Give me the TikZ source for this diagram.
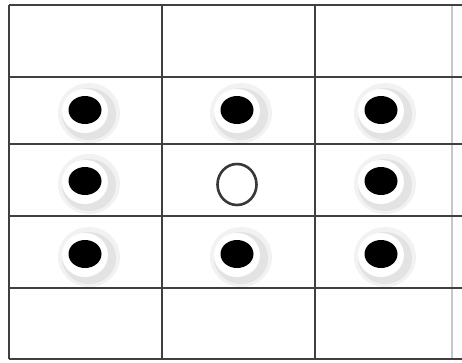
\documentclass[tikz,border=0pt]{standalone}
\begin{document}
\begin{tikzpicture}[x=1pt,y=-1pt,
  gridline/.style={line width=2.6pt,draw=black!75},
  faintline/.style={line width=1.2pt,draw=black!22},
  halo/.style={fill=black!11},
  haloin/.style={fill=white},
  dot/.style={fill=black},
  hole/.style={draw=black!78,line width=2.6pt,fill=white}]
\useasboundingbox (0,0) rectangle (462,362);
\fill[white] (0,0) rectangle (462,362);
% halos and dots
\foreach \cx/\cy in {85/110,237/110,381/110,85/181,381/181,85/254,237/254,381/254}{
  \fill[black!5] (\cx+4,\cy+3) ellipse [x radius=31, y radius=30];
  \fill[halo] (\cx+4,\cy+4) ellipse [x radius=27, y radius=26];
  \fill[haloin] (\cx,\cy+1) ellipse [x radius=23, y radius=22];
  \fill[dot] (\cx,\cy) ellipse [x radius=16.5, y radius=14];
}
\draw[hole] (237,184.5) ellipse [x radius=19.5, y radius=20.5];
% grid
\draw[faintline] (452,5) -- (452,359);
\foreach \y in {5,77,144,216,288,359}{
  \draw[gridline] (9,\y) -- (462,\y);
}
\foreach \x in {9,162,315}{
  \draw[gridline] (\x,5) -- (\x,359);
}
\end{tikzpicture}
\end{document}
